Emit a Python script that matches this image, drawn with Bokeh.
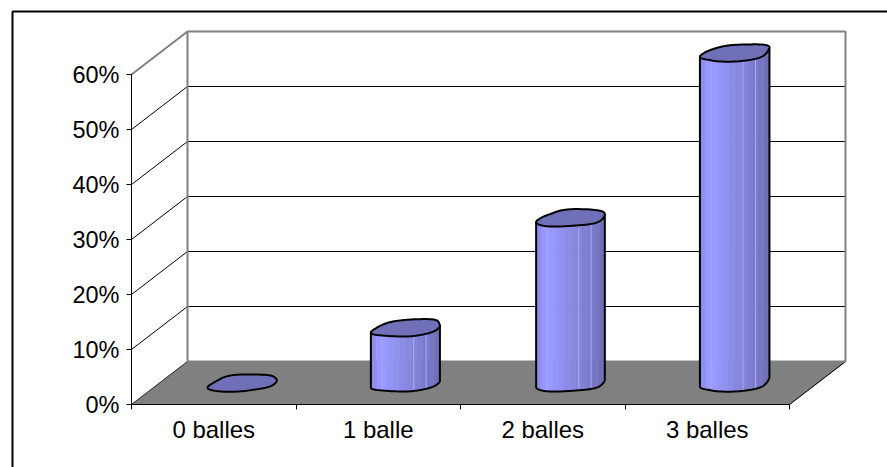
import numpy as np
from bokeh.plotting import figure
from bokeh.models import FixedTicker, Range1d
from bokeh.embed import file_html
from bokeh.resources import INLINE

# ---- chart data ----
categories = ["0 balles", "1 balle", "2 balles", "3 balles"]
values = [0, 10, 30, 60]
y_ticks = [0, 10, 20, 30, 40, 50, 60]
y_tick_labels = ["0%", "10%", "20%", "30%", "40%", "50%", "60%"]

# ---- style ----
FONT = "Liberation Sans"
GREY = "#808080"
CAP = "#7070b8"
BANDS = ["#8e8eee", "#9898ff", "#9999ff", "#9595f7", "#9191f0", "#8c8ce8",
         "#8888e0", "#8484d9", "#8080d2", "#7b7bca", "#7676c2", "#7070b8"]
STREAKS = [0.16, 0.62, 0.80]
WOBBLE = [(0.04, 0.3, 0.025, 1.2), (0.04, 2.0, 0.025, 0.4),
          (0.05, 1.0, 0.025, 2.4), (0.04, 2.6, 0.025, 1.6)]

# projection of the oblique 3D box, in data units
W, H = 887, 467
ORIGIN_X, ORIGIN_Y = 131, 404
PX_X, PX_Y = 164.5, 5.5
DX, DY = 56 / PX_X, 43 / PX_Y
A, F = 31.2 / PX_X, 0.2
NUDGE = 1 / PX_X
SQUARE = 0.82
ymax = max(y_ticks)
n = len(categories)

x0_d, x1_d = -ORIGIN_X / PX_X, (W - ORIGIN_X) / PX_X
y0_d, y1_d = -(H - ORIGIN_Y) / PX_Y, ORIGIN_Y / PX_Y

p = figure(width=W, height=H, output_backend="svg", toolbar_location=None,
           x_range=Range1d(x0_d, x1_d), y_range=Range1d(y0_d, y1_d),
           min_border_left=0, min_border_bottom=0, min_border_top=0, min_border_right=0)
p.grid.visible = False
p.outline_line_color = None
p.background_fill_color = "white"

# chart frame: only the top and left lines show
bx, by = (12 - ORIGIN_X) / PX_X, (ORIGIN_Y - 11) / PX_Y
p.line([bx, bx, x1_d + 1], [y0_d - 10, by, by], line_color="black", line_width=2)

# floor
p.patch([0, DX, n + DX, n], [0, DY, DY, 0], fill_color=GREY, line_color=GREY, line_width=1)
p.line([n, n + DX], [0, DY], line_color="black", line_width=1)

# back wall grid + left wall diagonals
for v in y_ticks[1:-1]:
    p.line([0, DX, n + DX], [v, v + DY, v + DY], line_color="black", line_width=1)
p.line([0, DX], [0, DY], line_color="#333333", line_width=1)
p.line([0, DX, n + DX, n + DX], [ymax, ymax + DY, ymax + DY, DY],
       line_color=GREY, line_width=2)
p.line([DX, DX], [DY, ymax + DY], line_color=GREY, line_width=2)
p.line([DX, n + DX], [DY, DY], line_color=GREY, line_width=2)


def outline(i):
    a1, p1, a2, p2 = WOBBLE[i]
    t = np.linspace(0, 2 * np.pi, 181)
    r = 1 + a1 * np.cos(3 * t + p1) + a2 * np.cos(5 * t + p2)
    c = np.sign(np.cos(t)) * np.abs(np.cos(t)) ** SQUARE
    s = np.sign(np.sin(t)) * np.abs(np.sin(t)) ** SQUARE
    return (A * r * c + F * r * s * DX,
            F * r * s * DY)


# cylinders
for i, v in enumerate(values):
    cx, cy = i + 0.5 + DX / 2 + NUDGE, DY / 2
    ox, oy = outline(i)
    il, ir = int(np.argmin(ox)), int(np.argmax(ox))
    idx = np.arange(il, ir + (len(ox) - 1 if ir < il else 0) + 1) % (len(ox) - 1)
    fx, fy = ox[idx], oy[idx]
    fx = np.maximum.accumulate(fx)
    x0, x1 = fx[0], fx[-1]
    if v > 0:
        edges = np.linspace(x0, x1, len(BANDS) + 1)
        for k, col in enumerate(BANDS):
            xs = np.linspace(edges[k], edges[k + 1], 12)
            ys = np.interp(xs, fx, fy)
            p.patch(np.r_[xs, xs[::-1]] + cx, np.r_[ys, ys[::-1] + v] + cy,
                    fill_color=col, line_color=col, line_width=0.5)
        for s in STREAKS:
            xs = x0 + s * (x1 - x0)
            ys = np.interp(xs, fx, fy)
            p.line([xs + cx] * 2, [ys + cy, ys + cy + v], line_color="#a9a9ff", line_width=1)
        p.line(np.r_[fx[0], fx, fx[-1]] + cx, np.r_[fy[0] + v, fy, fy[-1] + v] + cy,
               line_color="black", line_width=2)
    p.patch(ox + cx, oy + cy + v, fill_color=CAP, line_color="black", line_width=2)

# axes (fixed inside the full-page frame)
ya = p.yaxis[0]
ya.fixed_location = 0
ya.ticker = FixedTicker(ticks=y_ticks)
ya.major_label_overrides = {t: l for t, l in zip(y_ticks, y_tick_labels)}
ya.bounds = (0, ymax)
ya.major_tick_out, ya.major_tick_in = 5, 0
ya.minor_tick_out = ya.minor_tick_in = 0
ya.major_label_standoff = 7
ya.axis_line_color = "black"
ya.major_tick_line_color = "black"
ya.major_label_text_font_size = "23.5px"

xa = p.xaxis[0]
xa.fixed_location = 0
xa.ticker = FixedTicker(ticks=[i + 0.5 for i in range(n)], minor_ticks=list(range(n + 1)))
xa.major_label_overrides = {i + 0.5: c for i, c in enumerate(categories)}
xa.bounds = (0, n)
xa.major_tick_out = xa.major_tick_in = 0
xa.minor_tick_out, xa.minor_tick_in = 5, 0
xa.major_label_standoff = 6
xa.axis_line_color = "black"
xa.minor_tick_line_color = "black"
xa.major_label_text_font_size = "24px"

for ax in (xa, ya):
    ax.major_label_text_font = FONT
    ax.major_label_text_color = "black"

open("out.html", "w").write(file_html(p, INLINE))
